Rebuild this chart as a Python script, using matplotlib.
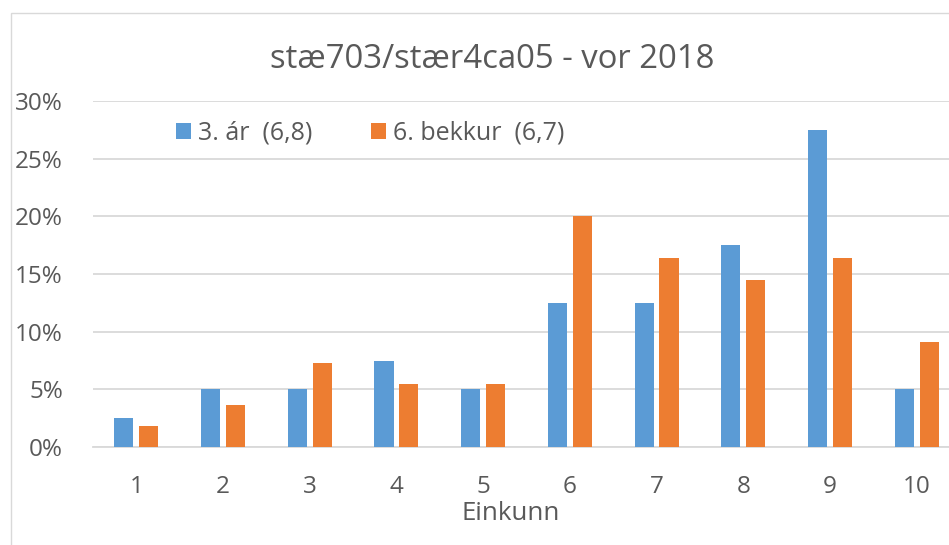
import matplotlib
matplotlib.use("Agg")
import matplotlib.pyplot as plt
from matplotlib.patches import Patch, Rectangle
from matplotlib.ticker import FuncFormatter, MultipleLocator
import numpy as np

# data (share of students per grade)
grades = ["1", "2", "3", "4", "5", "6", "7", "8", "9", "10"]
ar3 = [0.025, 0.05, 0.05, 0.075, 0.05, 0.125, 0.125, 0.175, 0.275, 0.05]
bekkur6 = [0.018, 0.036, 0.073, 0.055, 0.055, 0.20, 0.164, 0.145, 0.164, 0.091]
labels = ["3. ár  (6,8)", "6. bekkur  (6,7)"]
title = "stæ703/stær4ca05 - vor 2018"
xlabel = "Einkunn"

BLUE = "#5B9BD5"
ORANGE = "#ED7D31"
TXT = "#595959"
GRID = "#D9D9D9"

plt.rcParams['font.family'] = ['Open Sans', 'DejaVu Sans']

W, H = 949, 545
fig = plt.figure(figsize=(W / 100, H / 100), dpi=100)
fig.patch.set_facecolor("white")

# chart frame (cut off at right and bottom in the reference)
fig.patches.append(Rectangle((10.5 / W, -0.2), 1.5, 1.2 - 12.5 / H,
                             transform=fig.transFigure, fill=False,
                             edgecolor=GRID, linewidth=1.0))

left, right, bottom, top = 93, 960, 447, 101
ax = fig.add_axes([left / W, 1 - bottom / H, (right - left) / W, (bottom - top) / H])

x = np.arange(len(grades))
bw = 0.22
off = 0.144
ax.bar(x - off, ar3, bw, color=BLUE, zorder=3)
ax.bar(x + off, bekkur6, bw, color=ORANGE, zorder=3)

ax.set_xlim(-0.5, len(grades) - 0.5)
ax.set_ylim(0, 0.30)
ax.yaxis.set_major_locator(MultipleLocator(0.05))
ax.yaxis.set_major_formatter(FuncFormatter(lambda v, p: "{:.0f}%".format(v * 100)))
ax.set_xticks(x)
ax.set_xticklabels(grades)
ax.grid(axis="y", color=GRID, linewidth=1.3, zorder=0)
for s in ["top", "right", "left"]:
    ax.spines[s].set_visible(False)
ax.spines["bottom"].set_color(GRID)
ax.spines["bottom"].set_linewidth(1.3)
ax.tick_params(axis="both", length=0, labelsize=17.5, labelcolor=TXT)
ax.tick_params(axis="y", pad=21.6)
ax.tick_params(axis="x", pad=20.5)

fig.text(492 / W, 1 - 60 / H, title, ha="center", va="center", fontsize=23.7, color=TXT)
fig.text(511 / W, 1 - 514 / H, xlabel, ha="center", va="center", fontsize=18.6, color=TXT)

handles = [Patch(facecolor=BLUE), Patch(facecolor=ORANGE)]
ax.legend(handles, labels, ncol=2, frameon=False, loc="center",
          bbox_to_anchor=(370 / W, 1 - 133 / H), bbox_transform=fig.transFigure,
          fontsize=18, labelcolor=TXT, handlelength=0.6, handleheight=0.6,
          handletextpad=0.28, columnspacing=2.36, borderpad=0, borderaxespad=0)

fig.savefig("out.png", dpi=100, facecolor="white")
